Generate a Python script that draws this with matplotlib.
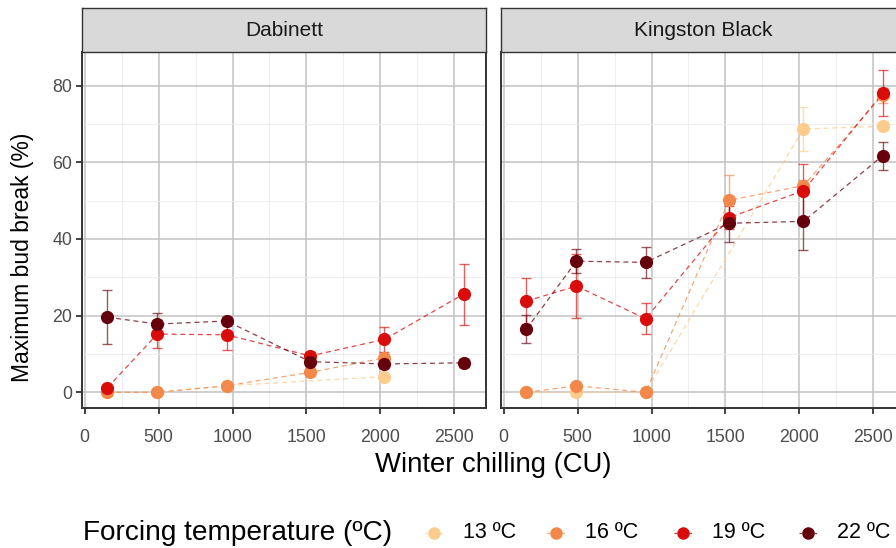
import numpy as np
import matplotlib
matplotlib.use("Agg")
import matplotlib.pyplot as plt
from matplotlib.lines import Line2D
from matplotlib.ticker import MultipleLocator

plt.rcParams["font.family"] = ["Liberation Sans", "DejaVu Sans"]

# winter chilling levels (CU)
chill = [155, 492, 960, 1525, 2027, 2561]
temps = ["13 ºC", "16 ºC", "19 ºC", "22 ºC"]
colors = ["#FDCB8B", "#F4874A", "#D90B0B", "#67000D"]
cultivars = ["Dabinett", "Kingston Black"]

# maximum bud break (%) per forcing temperature, None = not measured
dab_mean = [
    [0.0, 0.0, 1.7, None, 4.1, None],
    [0.0, 0.0, 1.7, 5.2, 9.0, None],
    [1.2, 15.2, 15.0, 9.5, 13.8, 25.6],
    [19.6, 17.8, 18.6, 8.0, 7.4, 7.7],
]
dab_err = [
    [0.0, 0.0, 0.0, None, 0.5, None],
    [0.0, 0.0, 0.5, 1.0, 1.0, None],
    [0.5, 3.6, 4.0, 1.0, 3.2, 8.0],
    [7.0, 2.8, 1.0, 1.0, 1.0, 1.0],
]
kb_mean = [
    [0.0, 0.0, 0.0, None, 68.7, 69.4],
    [0.0, 1.7, 0.0, 50.1, 53.9, 77.5],
    [23.8, 27.7, 19.2, 45.6, 52.6, 78.0],
    [16.5, 34.2, 33.9, 44.1, 44.6, 61.7],
]
kb_err = [
    [0.0, 0.0, 0.0, None, 5.8, 1.0],
    [0.0, 0.5, 0.0, 6.7, 1.5, 2.0],
    [6.1, 8.3, 4.1, 3.0, 6.9, 6.0],
    [3.7, 3.1, 4.1, 4.9, 7.4, 3.7],
]
panels = [(dab_mean, dab_err), (kb_mean, kb_err)]

W, H = 896, 548
fig = plt.figure(figsize=(W / 100, H / 100), dpi=100)

def fx(px):
    return px / W

def fy(py):
    return 1 - py / H

pan_top, pan_bot = 52.3, 408.3
pan_w = 404
lefts = [82, 501]
dark = "#333333"

for k, (means, errs) in enumerate(panels):
    x0 = lefts[k]
    ax = fig.add_axes([fx(x0), fy(pan_bot), pan_w / W, (pan_bot - pan_top) / H])
    ax.set_xlim(-17, 2713)
    ax.set_ylim(-4.17, 88.7)
    ax.xaxis.set_major_locator(MultipleLocator(500))
    ax.xaxis.set_minor_locator(MultipleLocator(250))
    ax.yaxis.set_major_locator(MultipleLocator(20))
    ax.yaxis.set_minor_locator(MultipleLocator(10))
    ax.grid(True, which="major", color="#C2C2C2", lw=1.1)
    ax.grid(True, which="minor", color="#EBEBEB", lw=0.6)
    ax.set_axisbelow(True)
    for s in ax.spines.values():
        s.set_color(dark)
        s.set_linewidth(1.4)
    ax.tick_params(which="minor", length=0)
    ax.tick_params(which="major", length=4, width=1.3, color=dark,
                   labelsize=12.8, labelcolor="#4D4D4D")
    ax.tick_params(axis="x", pad=11)
    ax.tick_params(axis="y", pad=3)
    if k == 1:
        ax.tick_params(axis="y", left=False, labelleft=False)

    for i in range(len(temps)):
        pts = [(c, m, e) for c, m, e in zip(chill, means[i], errs[i]) if m is not None]
        xs = [p[0] for p in pts]
        ys = [p[1] for p in pts]
        es = [p[2] for p in pts]
        ax.plot(xs, ys, ls=(0, (4, 3)), lw=0.9, color=colors[i], alpha=0.75, zorder=3 + i)
        ax.errorbar(xs, ys, yerr=es, fmt="none", ecolor=colors[i], alpha=0.65,
                    elinewidth=1.0, capsize=3.5, capthick=1.0, zorder=3 + i)
        ax.plot(xs, ys, "o", ms=9.5, color=colors[i], mec="none", zorder=7 + i)

    # facet strip
    st = fig.add_axes([fx(x0), fy(pan_top), pan_w / W, (pan_top - 8) / H])
    st.set_facecolor("#D9D9D9")
    st.set_xticks([])
    st.set_yticks([])
    for s in st.spines.values():
        s.set_color(dark)
        s.set_linewidth(1.0)
    st.text(0.5, 0.5, cultivars[k], transform=st.transAxes, ha="center", va="center",
            fontsize=15, color="#1A1A1A")

fig.text(fx(493), fy(465), "Winter chilling (CU)", ha="center", va="center", fontsize=19.8)
fig.text(fx(22), fy(257), "Maximum bud break (%)", ha="center", va="center",
         rotation=90, fontsize=16.5)

# legend along the bottom
ly = fy(533)
fig.text(fx(83), ly, "Forcing temperature (ºC)", ha="left", va="center", fontsize=20.2)
key_x = [434.3, 556, 682.7, 808.3]
for i in range(len(temps)):
    kx = key_x[i]
    fig.add_artist(Line2D([fx(kx - 9), fx(kx + 9)], [ly, ly], transform=fig.transFigure,
                          ls=(0, (2, 2)), lw=0.9, color=colors[i], alpha=0.75))
    fig.add_artist(Line2D([fx(kx)], [ly], transform=fig.transFigure, marker="o", ms=9,
                          color=colors[i], mec="none", ls="none"))
    fig.text(fx(kx + 29), ly, temps[i], ha="left", va="center", fontsize=15.5)

fig.savefig("out.png", dpi=100)
